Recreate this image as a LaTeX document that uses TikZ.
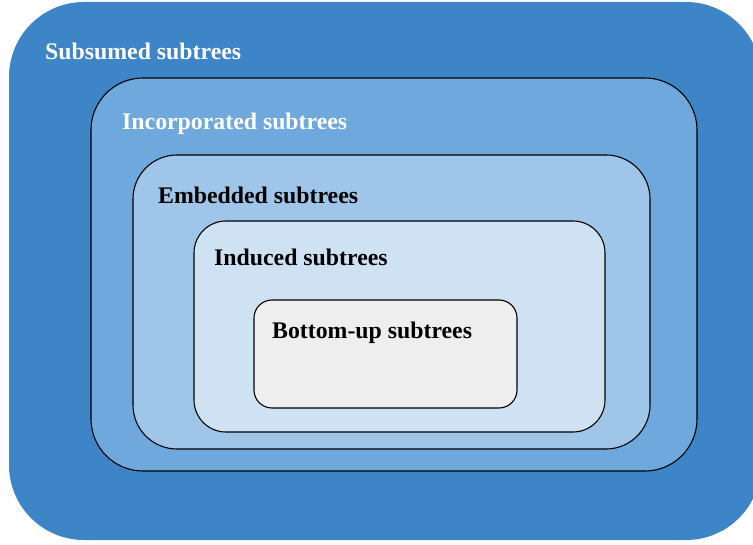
\documentclass[tikz,border=0pt]{standalone}
\usepackage{fontspec}
\setmainfont{Liberation Serif}
\definecolor{blueA}{HTML}{3D85C6}
\definecolor{blueB}{HTML}{6FA8DC}
\definecolor{blueC}{HTML}{9FC5E8}
\definecolor{blueD}{HTML}{CFE2F3}
\definecolor{greyE}{HTML}{EEEEEE}
\begin{document}
\begin{tikzpicture}[x=1pt,y=-1pt,
  level/.style={draw=black,line width=1.1pt},
  setlabel/.style={anchor=base west,inner sep=0pt,font=\fontsize{23.8}{28}\selectfont\bfseries}]
\useasboundingbox (0,0) rectangle (753,545);
\clip (0,0) rectangle (753,545);
% nested sets, outermost first
\fill[blueA,rounded corners=75pt] (9,2) rectangle (761,540);
\filldraw[level,fill=blueB,rounded corners=52pt] (91,78) rectangle (697,471);
\filldraw[level,fill=blueC,rounded corners=44pt] (133,155) rectangle (650,449);
\filldraw[level,fill=blueD,rounded corners=32pt] (194,221) rectangle (605,432);
\filldraw[level,fill=greyE,rounded corners=18pt] (254,300) rectangle (517,408);
% set names
\node[setlabel,text=white] (subsumed) at (45,60) {Subsumed subtrees};
\node[setlabel,text=white] (incorporated) at (122,130) {Incorporated subtrees};
\node[setlabel] (embedded) at (158,204) {Embedded subtrees};
\node[setlabel] (induced) at (214,266) {Induced subtrees};
\node[setlabel] (bottomup) at (272,339) {Bottom-up subtrees};
\end{tikzpicture}
\end{document}
